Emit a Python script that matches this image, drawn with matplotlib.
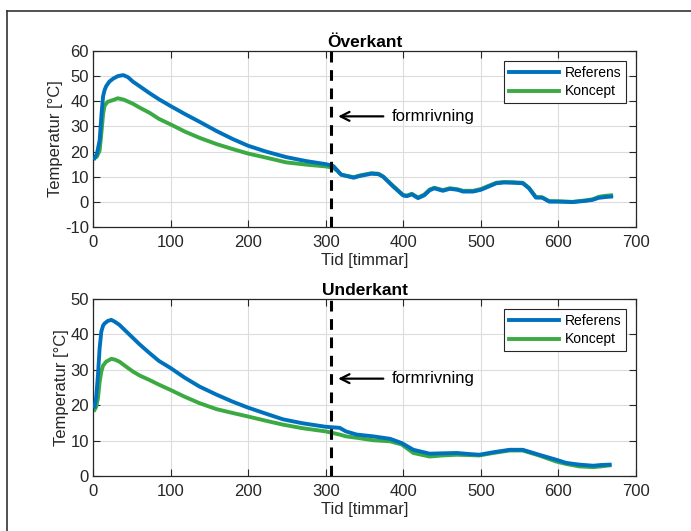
import numpy as np
import matplotlib.pyplot as plt
from matplotlib.lines import Line2D

plt.rcParams['font.family'] = ['Liberation Sans', 'DejaVu Sans']
plt.rcParams['axes.unicode_minus'] = False

# --- data ---
# Överkant
t_top_ref = [2, 5, 8.6, 11, 13, 15, 17, 21, 26, 32, 39, 45, 51.5, 60, 73, 85, 100, 118, 137, 159, 180, 200,
             223, 249, 275, 300, 307, 310, 315, 320, 336, 344, 359, 368, 374, 387, 400, 405, 411, 419, 427,
             434, 440, 451, 460, 470, 477, 490, 500, 507, 520, 530, 542, 554, 562, 571, 579, 588, 601, 610,
             618, 635, 644, 652, 660, 668]
y_top_ref = [17.4, 19, 24.6, 35, 42, 44.5, 46, 47.8, 49, 50, 50.4, 49.6, 47.8, 46, 43.2, 40.8, 38.1, 35, 31.9,
             28.2, 25, 22.3, 20, 17.8, 16.2, 15, 14.5, 14.2, 12.5, 10.8, 9.6, 10.3, 11.2, 11.0, 10, 6.1, 2.5,
             2.3, 3, 1.5, 2.6, 4.6, 5.4, 4.4, 5.2, 4.8, 4.1, 4.1, 4.8, 5.7, 7.4, 7.7, 7.6, 7.4, 5.4, 1.7, 1.7,
             0.1, 0.1, 0.0, -0.1, 0.4, 0.8, 1.6, 1.9, 2.1]
t_top_kon = [2, 5, 8.6, 11, 13, 15, 19, 26, 32, 40, 51.5, 60, 73, 85, 100, 118, 137, 159, 180, 200, 223, 249,
             275, 300, 307, 310, 315, 320, 336, 344, 359, 368, 374, 387, 400, 405, 411, 419, 427, 434, 440,
             451, 460, 470, 477, 490, 500, 507, 520, 530, 542, 554, 562, 571, 579, 588, 601, 610, 618, 635,
             644, 652, 660, 668]
y_top_kon = [17.4, 18, 20.5, 28, 35, 38.3, 39.8, 40.5, 41.2, 40.6, 39, 37.5, 35.4, 33, 30.8, 28, 25.5, 23,
             21, 19.2, 17.6, 15.7, 14.8, 14.1, 13.7, 13.5, 12.3, 10.8, 9.8, 10.5, 11.4, 11.2, 10.1, 6.3, 2.7,
             2.5, 3.2, 1.7, 2.9, 4.9, 5.6, 4.7, 5.4, 5.0, 4.4, 4.4, 5.1, 6.0, 7.6, 7.9, 7.8, 7.6, 5.6, 1.9, 1.8,
             0.3, 0.2, 0.1, 0.0, 0.6, 1.0, 2.0, 2.4, 2.6]

# Underkant
t_bot_ref = [2, 4, 6.4, 8.5, 10.7, 13, 15, 19, 23.6, 28, 34, 42, 51.5, 60, 73, 85, 100, 118, 137, 159, 180,
             200, 223, 245, 270, 300, 318, 326, 340, 361, 383, 398, 413, 434, 450, 469, 485, 498, 516, 537,
             554, 575, 597, 610, 627, 645, 655, 666]
y_bot_ref = [19.6, 22, 28.5, 36, 40.8, 42.5, 43.1, 43.8, 44.1, 43.6, 42.7, 41, 39, 37.2, 34.7, 32.5, 30.5,
             27.8, 25.3, 23, 21, 19.3, 17.6, 16, 14.9, 13.9, 13.6, 12.6, 11.7, 11.2, 10.5, 9.3, 7.4, 6.3, 6.4,
             6.5, 6.2, 6, 6.7, 7.4, 7.4, 6, 4.6, 3.7, 3.2, 2.9, 3.1, 3.2]
t_bot_kon = [2, 4, 6.4, 8.5, 10.7, 13, 17, 23.6, 28, 34, 42, 51.5, 60, 73, 85, 100, 118, 137, 159, 180, 200,
             223, 245, 270, 300, 318, 326, 340, 361, 383, 398, 413, 434, 450, 469, 485, 498, 516, 537, 554,
             575, 597, 610, 627, 645, 655, 666]
y_bot_kon = [18.7, 19.5, 22, 26.5, 29.5, 31.2, 32.3, 33.1, 32.9, 32.3, 31, 29.5, 28.4, 27.1, 25.8, 24.3,
             22.4, 20.6, 18.9, 17.8, 16.8, 15.6, 14.5, 13.5, 12.6, 11.7, 11.2, 10.8, 10.1, 9.8, 8.9, 6.5, 5.5,
             5.8, 6, 5.9, 5.8, 6.5, 7.2, 7.2, 5.8, 4.1, 3.4, 2.7, 2.5, 2.7, 3.0]

titles = ['Överkant', 'Underkant']
ylims = [(-10, 60), (0, 50)]
arrow_y = [34, 27.5]
t_form = 307

blue = '#0072BD'
green = '#3BAA43'

fig = plt.figure(figsize=(6.91, 5.31), dpi=100)
# figure border (only left and top visible in the crop)
fig.add_artist(Line2D([7 / 691, 7 / 691], [0, 1 - 11 / 531], transform=fig.transFigure, color='#333333', lw=1.2))
fig.add_artist(Line2D([7 / 691, 1], [1 - 11 / 531, 1 - 11 / 531], transform=fig.transFigure, color='#333333', lw=1.2))

ax1 = fig.add_axes([0.1346, 0.5725, 0.7858, 0.3315])
ax2 = fig.add_axes([0.1346, 0.1036, 0.7858, 0.3333])

data = [(t_top_ref, y_top_ref, t_top_kon, y_top_kon), (t_bot_ref, y_bot_ref, t_bot_kon, y_bot_kon)]

for i, ax in enumerate([ax1, ax2]):
    tr, yr, tk, yk = data[i]
    ax.plot(tr, yr, color=blue, lw=2.8, label='Referens', zorder=3)
    ax.plot(tk, yk, color=green, lw=2.8, label='Koncept', zorder=2)
    ax.axvline(t_form, color='black', lw=2.2, ls=(0, (3.5, 2.5)), zorder=4)
    ax.annotate('formrivning', xy=(316, arrow_y[i]), xytext=(385, arrow_y[i]), fontsize=12,
                va='center', ha='left',
                arrowprops=dict(arrowstyle='->', color='black', lw=1.6, mutation_scale=16,
                                shrinkA=4, shrinkB=0))
    ax.set_xlim(0, 700)
    ax.set_ylim(*ylims[i])
    ax.set_xticks(range(0, 701, 100))
    ax.set_yticks(range(ylims[i][0], ylims[i][1] + 1, 10))
    ax.grid(True, color='#dcdcdc', lw=0.8)
    ax.set_axisbelow(True)
    ax.tick_params(direction='in', top=True, right=True, labelsize=12, colors='#262626',
                   length=5, width=0.8, pad=3)
    ax.tick_params(axis='x', pad=6)
    for s in ax.spines.values():
        s.set_color('#262626')
        s.set_linewidth(0.9)
    ax.set_title(titles[i], fontsize=12.5, fontweight='bold', pad=3)
    ax.set_xlabel('Tid [timmar]', fontsize=12, labelpad=2, color='#262626')
    ax.set_ylabel('Temperatur [°C]', fontsize=12, labelpad=1, color='#262626')
    leg = ax.legend(loc='upper right', fontsize=10, handlelength=3.6, fancybox=False,
                    framealpha=1, edgecolor='#262626', borderpad=0.35, labelspacing=0.35,
                    handletextpad=0.4, borderaxespad=0.7)
    leg.get_frame().set_linewidth(0.8)

fig.savefig('out.png', dpi=100)
